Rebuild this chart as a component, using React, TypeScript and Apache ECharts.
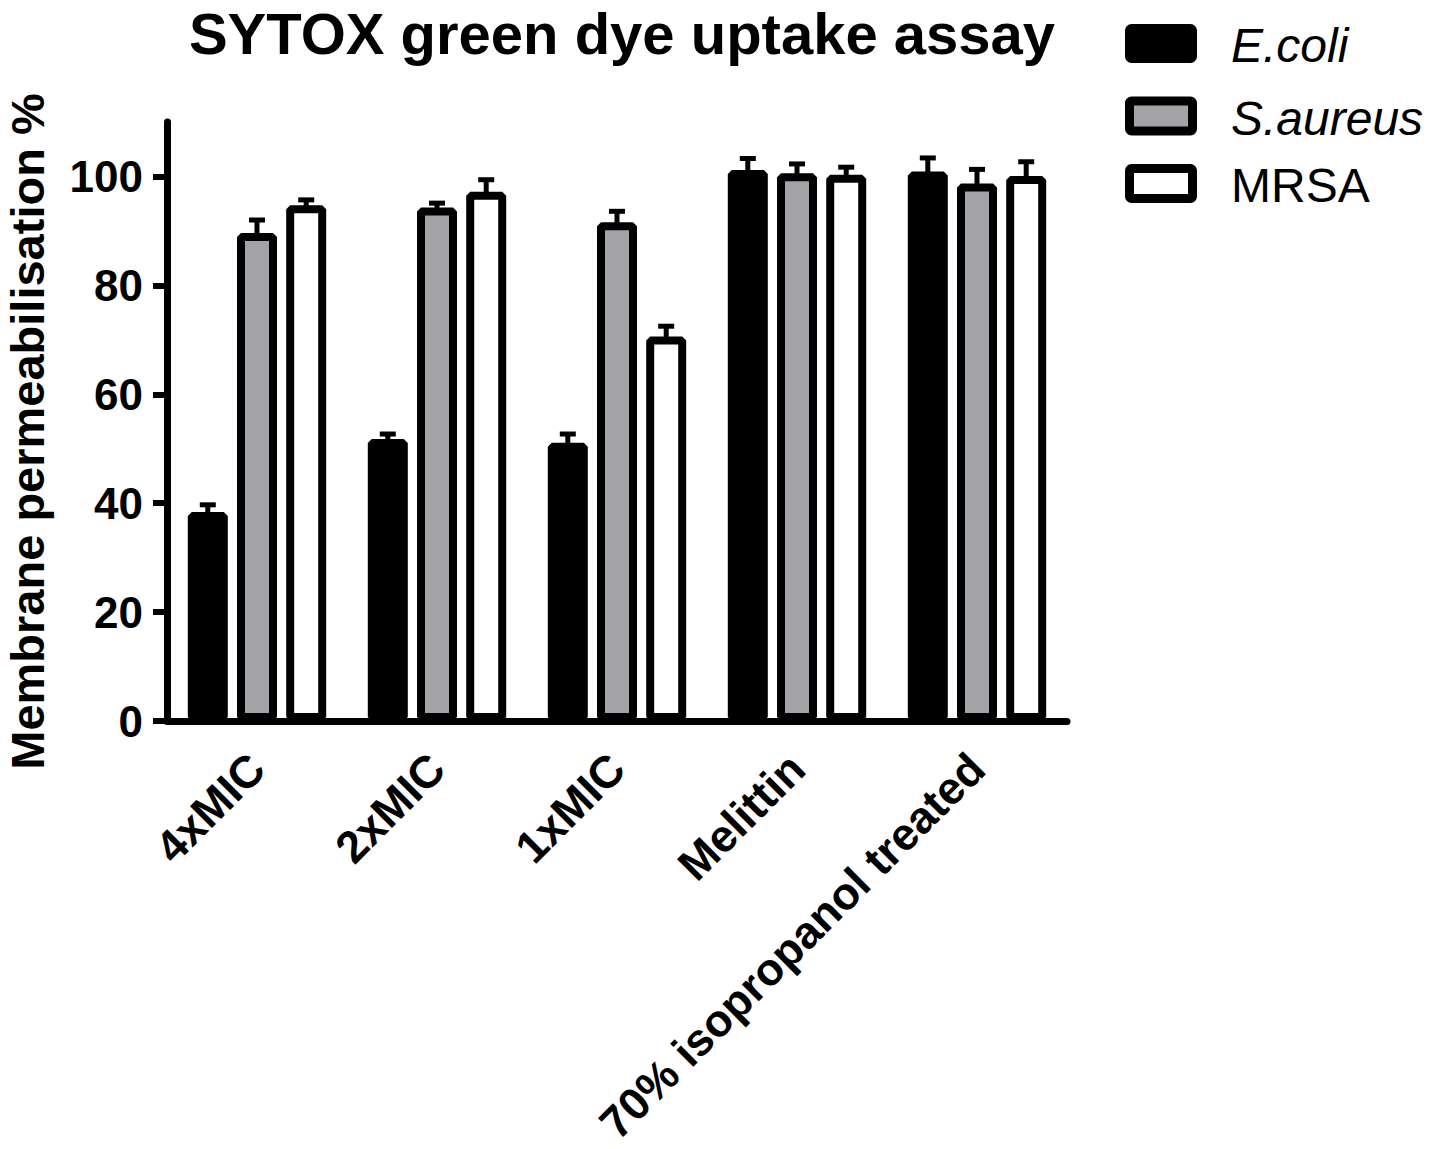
import React, { useEffect, useRef } from "react";
import * as echarts from "echarts";

const categories = ["4xMIC", "2xMIC", "1xMIC", "Melittin", "70% isopropanol treated"];
const seriesNames = ["E.coli", "S.aureus", "MRSA"];
const ecoli = [38.4, 51.8, 51.1, 101.2, 100.9];
const ecoliErr = [1.3, 0.9, 1.6, 2.1, 2.5];
const saureus = [89.6, 94.3, 91.6, 100.6, 98.7];
const saureusErr = [2.4, 0.8, 2.0, 1.7, 2.6];
const mrsa = [94.7, 97.2, 70.6, 100.3, 100.1];
const mrsaErr = [1.0, 2.2, 1.9, 1.4, 2.6];
const yTicks = [0, 20, 40, 60, 80, 100];

const fills = ["#000000", "#a3a2a7", "#ffffff"];
const FONT = "'Liberation Sans', Arial, Helvetica, sans-serif";
const BAR_W = 40;
const BAR_GAP = 0.23;

export default function App() {
  const ref = useRef<HTMLDivElement>(null);
  useEffect(() => {
    if (!ref.current) return;
    const chart = echarts.init(ref.current, null, { renderer: "svg" });
    const values = [ecoli, saureus, mrsa];
    const errs = [ecoliErr, saureusErr, mrsaErr];

    const barSeries = values.map((v, i) => ({
      name: seriesNames[i],
      type: "bar",
      data: v,
      barWidth: BAR_W,
      barGap: BAR_GAP * 100 + "%",
      z: 3,
      itemStyle: {
        color: fills[i],
        borderColor: "#000",
        borderWidth: 8,
        borderJoin: "bevel",
      },
    }));

    const errSeries = values.map((v, i) => ({
      name: seriesNames[i] + " SEM",
      type: "custom",
      z: 4,
      data: v.map((val, k) => [k, val, errs[i][k]]),
      encode: { x: 0, y: 1 },
      renderItem: (params: any, api: any) => {
        const k = api.value(0);
        const val = api.value(1);
        const e = api.value(2);
        const base = api.coord([k, val]);
        const top = api.coord([k, val + e]);
        const x = base[0] + (i - 1) * BAR_W * (1 + BAR_GAP);
        return {
          type: "group",
          children: [
            {
              type: "line",
              shape: { x1: x, y1: base[1] + 2, x2: x, y2: top[1] },
              style: { stroke: "#000", lineWidth: 5 },
            },
            {
              type: "line",
              shape: { x1: x - 8, y1: top[1], x2: x + 8, y2: top[1] },
              style: { stroke: "#000", lineWidth: 5 },
            },
          ],
        };
      },
    }));

    const legendY = [43.5, 116, 183.5];
    const legendGraphics: any[] = [];
    seriesNames.forEach((n, i) => {
      legendGraphics.push({
        type: "rect",
        shape: { x: 1129.5, y: legendY[i] - 15, width: 63, height: 30, r: 2 },
        style: { fill: fills[i], stroke: "#000", lineWidth: 9, lineJoin: "bevel" },
      });
      legendGraphics.push({
        type: "text",
        x: 1231,
        y: legendY[i] + 2,
        style: {
          text: n,
          fontFamily: FONT,
          fontSize: 48,
          fontStyle: i < 2 ? "italic" : "normal",
          fill: "#000",
          verticalAlign: "middle",
          align: "left",
        },
      });
    });

    chart.setOption({
      animation: false,
      backgroundColor: "#fff",
      title: {
        text: "SYTOX green dye uptake assay",
        left: 617,
        textAlign: "center",
        top: 0,
        textStyle: { fontFamily: FONT, fontSize: 58, lineHeight: 56, fontWeight: "bold", color: "#000" },
      },
      grid: { left: 167, right: 370, top: 122, bottom: 428, containLabel: false, outerBoundsMode: "none" },
      xAxis: {
        type: "category",
        data: categories,
        axisLine: { lineStyle: { color: "#000", width: 7 } },
        axisTick: { alignWithLabel: true, length: 16, lineStyle: { color: "#000", width: 5 } },
        axisLabel: {
          rotate: 45,
          interval: 0,
          margin: 40,
          fontFamily: FONT,
          fontSize: 45,
          fontWeight: "bold",
          color: "#000",
        },
      },
      yAxis: {
        type: "value",
        min: 0,
        max: 110,
        interval: 20,
        name: "Membrane permeabilisation %",
        nameLocation: "middle",
        nameRotate: 90,
        nameGap: 116,
        nameTextStyle: {
          fontFamily: FONT,
          fontSize: 47,
          fontWeight: "bold",
          color: "#000",
          padding: [0, 20, 0, 0],
        },
        splitLine: { show: false },
        axisLine: { show: true, lineStyle: { color: "#000", width: 7 } },
        axisTick: {
          show: true,
          length: 14,
          customValues: yTicks,
          lineStyle: { color: "#000", width: 6 },
        },
        axisLabel: {
          customValues: yTicks,
          margin: 24,
          fontFamily: FONT,
          fontSize: 44,
          fontWeight: "bold",
          color: "#000",
        },
      },
      graphic: legendGraphics,
      series: [...barSeries, ...errSeries],
    });
    return () => chart.dispose();
  }, []);
  return <div ref={ref} style={{ width: 1437, height: 1149, margin: -8 }} />;
}
